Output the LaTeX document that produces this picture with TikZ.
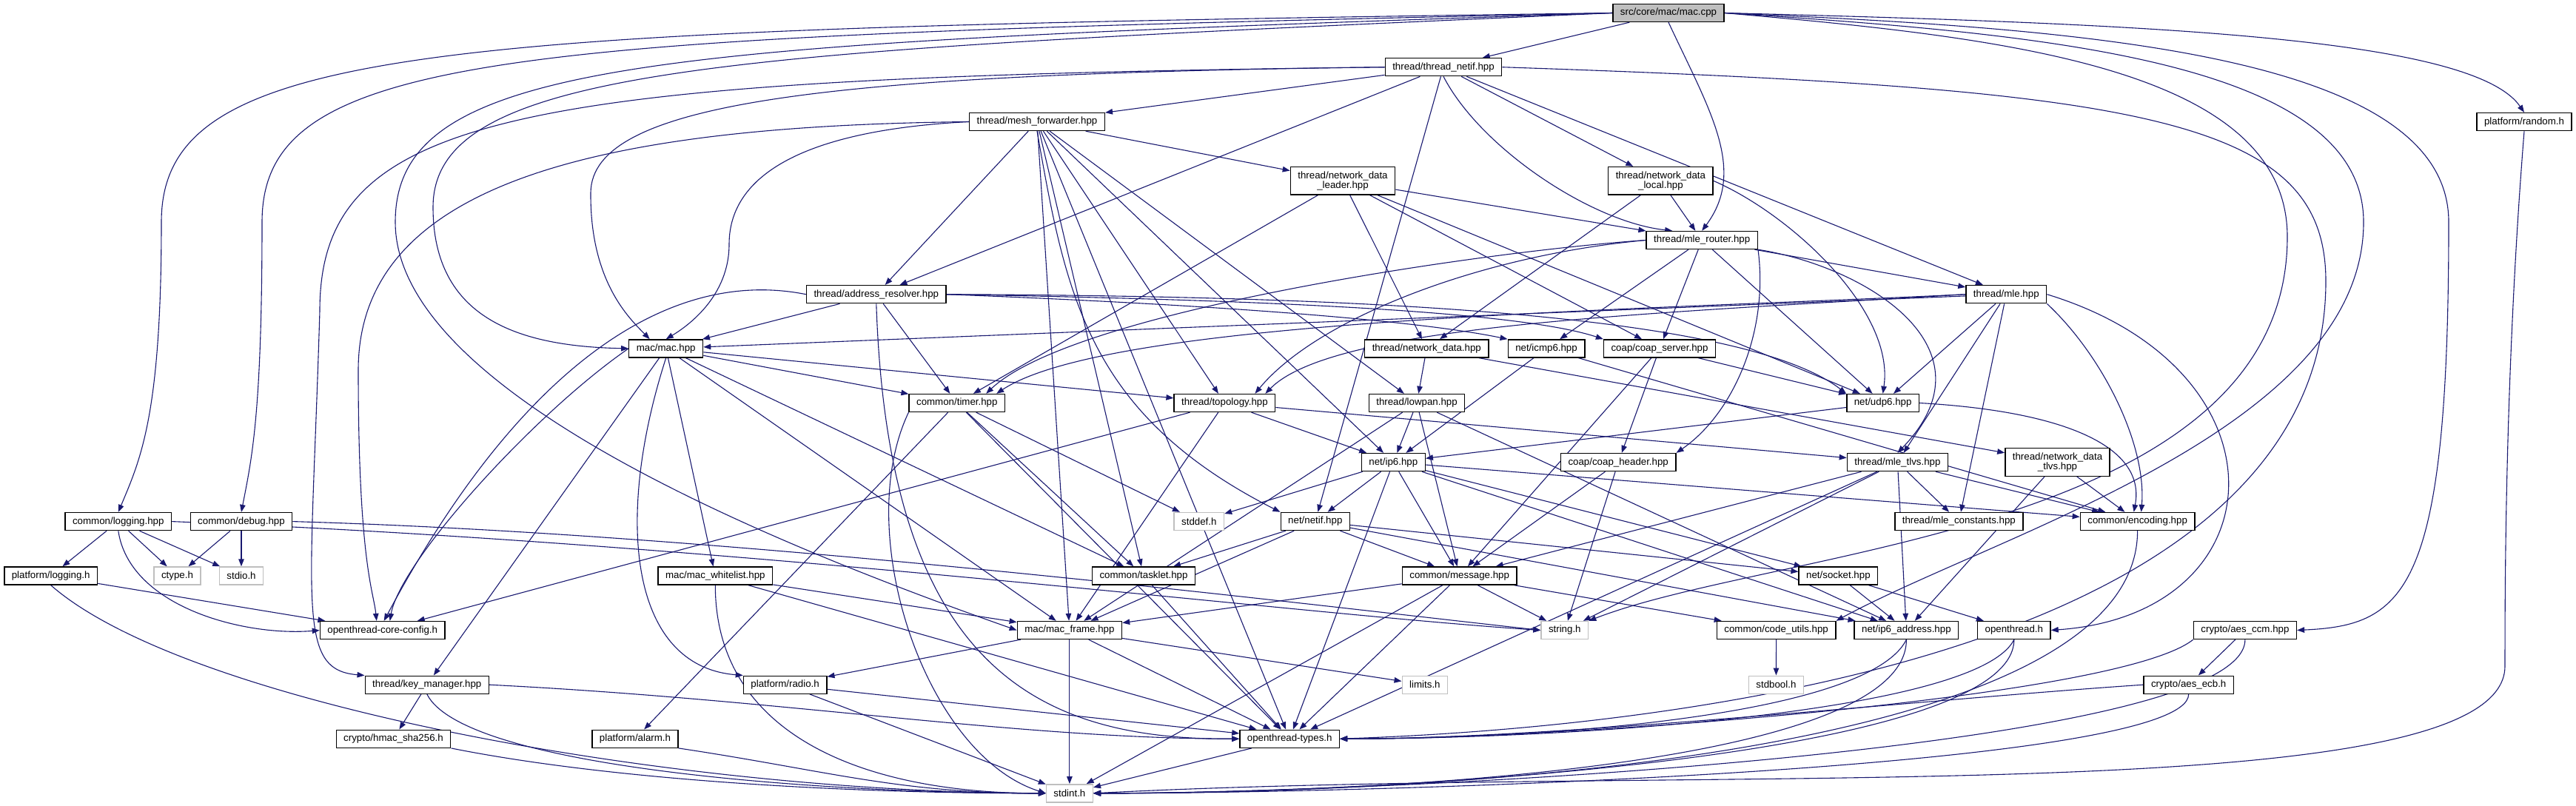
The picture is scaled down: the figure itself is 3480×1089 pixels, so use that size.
\documentclass[tikz,border=0pt]{standalone}
\usepackage{fontspec}
\setmainfont{Liberation Sans}
\usetikzlibrary{arrows.meta,backgrounds}
\definecolor{depblue}{HTML}{191970}
\definecolor{sysgray}{HTML}{BFBFBF}

\begin{document}
\begin{tikzpicture}[
    x=1pt, y=-1pt,
    font=\fontsize{13.3}{13.3}\selectfont,
    hdr/.style={draw=black, line width=1.4pt, fill=white, inner xsep=10pt, inner ysep=0pt, minimum height=24pt},
    syshdr/.style={hdr, draw=sysgray},
    srcfile/.style={hdr, fill=sysgray},
    twoline/.style={align=center, minimum height=37.5pt},
    dep/.style={draw=depblue, line width=1.1pt, -{Triangle[length=10pt,width=7.5pt]}}
]
    \useasboundingbox (0,0) rectangle (3480,1089);

    % Fichier source
    \node[srcfile] (src_mac) at (2254,17.5) {src/core/mac/mac.cpp};

    % En-tetes thread
    \node[hdr] (thr_netif) at (1950,90.7) {thread/thread\_netif.hpp};
    \node[hdr] (thr_meshfwd) at (1401,164.5) {thread/mesh\_forwarder.hpp};
    \node[hdr] (plat_random) at (3410,164.6) {platform/random.h};
    \node[hdr, twoline] (thr_ndleader) at (1814,244.3) {thread/network\_data\\\_leader.hpp};
    \node[hdr, twoline] (thr_ndlocal) at (2243.4,244.3) {thread/network\_data\\\_local.hpp};
    \node[hdr] (thr_mlerouter) at (2299.2,324.5) {thread/mle\_router.hpp};
    \node[hdr] (thr_addrres) at (1183.8,397.7) {thread/address\_resolver.hpp};
    \node[hdr] (thr_mle) at (2710.3,397.7) {thread/mle.hpp};
    \node[hdr] (mac_hpp) at (899.7,470.9) {mac/mac.hpp};
    \node[hdr] (thr_nd) at (1927.3,470.9) {thread/network\_data.hpp};
    \node[hdr] (net_icmp) at (2089,470.9) {net/icmp6.hpp};
    \node[hdr] (coap_srv) at (2242,470.9) {coap/coap\_server.hpp};
    \node[hdr] (com_timer) at (1292.8,544.5) {common/timer.hpp};
    \node[hdr] (thr_topo) at (1654.4,544.5) {thread/topology.hpp};
    \node[hdr] (thr_lowpan) at (1914,544.5) {thread/lowpan.hpp};
    \node[hdr] (net_udp) at (2543.6,544.5) {net/udp6.hpp};
    \node[hdr] (net_ip6) at (1882.3,624.6) {net/ip6.hpp};
    \node[hdr] (coap_hdr) at (2186.2,624.6) {coap/coap\_header.hpp};
    \node[hdr] (thr_mletlvs) at (2563.4,624.6) {thread/mle\_tlvs.hpp};
    \node[hdr, twoline] (thr_ndtlvs) at (2779.5,624.5) {thread/network\_data\\\_tlvs.hpp};

    % En-tetes communs
    \node[hdr] (com_log) at (159.8,704.6) {common/logging.hpp};
    \node[hdr] (com_debug) at (326,704.6) {common/debug.hpp};
    \node[syshdr] (sys_stddef) at (1619.8,704.5) {stddef.h};
    \node[hdr] (net_netif) at (1776.8,704.5) {net/netif.hpp};
    \node[hdr] (thr_mleconst) at (2646.3,704.5) {thread/mle\_constants.hpp};
    \node[hdr] (com_enc) at (2887.6,704.5) {common/encoding.hpp};
    \node[hdr] (plat_log) at (68.7,778) {platform/logging.h};
    \node[syshdr] (sys_ctype) at (239.5,778) {ctype.h};
    \node[syshdr] (sys_stdio) at (326,778) {stdio.h};
    \node[hdr] (mac_wl) at (966.3,778) {mac/mac\_whitelist.hpp};
    \node[hdr] (com_tasklet) at (1545,778) {common/tasklet.hpp};
    \node[hdr] (com_msg) at (1971.7,778) {common/message.hpp};
    \node[hdr] (net_socket) at (2483.4,778) {net/socket.hpp};
    \node[hdr] (ot_config) at (516.7,851.6) {openthread-core-config.h};
    \node[hdr] (mac_frame) at (1444.9,851.5) {mac/mac\_frame.hpp};
    \node[syshdr] (sys_string) at (2113.8,851.5) {string.h};
    \node[hdr] (com_utils) at (2399.6,851.5) {common/code\_utils.hpp};
    \node[hdr] (net_ip6addr) at (2575.4,851.5) {net/ip6\_address.hpp};
    \node[hdr] (ot_h) at (2720.8,851.5) {openthread.h};
    \node[hdr] (crypto_ccm) at (3032.9,851.5) {crypto/aes\_ccm.hpp};
    \node[hdr] (thr_keymgr) at (576.8,925.2) {thread/key\_manager.hpp};
    \node[hdr] (plat_radio) at (1060.6,925.2) {platform/radio.h};
    \node[syshdr] (sys_limits) at (1924.9,925.2) {limits.h};
    \node[syshdr] (sys_stdbool) at (2399.4,925.2) {stdbool.h};
    \node[hdr] (crypto_ecb) at (2956.7,925.2) {crypto/aes\_ecb.h};
    \node[hdr] (crypto_hmac) at (531.5,998.2) {crypto/hmac\_sha256.h};
    \node[hdr] (plat_alarm) at (858,998.2) {platform/alarm.h};
    \node[hdr] (ot_types) at (1742.2,998.2) {openthread-types.h};
    \node[syshdr] (sys_stdint) at (1444.9,1071.8) {stdint.h};

    \begin{scope}[on background layer]
    % Inclusions de mac.cpp
    \draw[dep] (src_mac) -- (thr_netif);
    \draw[dep] (src_mac.south) .. controls (2310,150) and (2360,230) .. (thr_mlerouter.north);
    \draw[dep] (src_mac.west) .. controls (600,40) and (218,55) .. (218,300) .. controls (218,560) and (190,620) .. (com_log.north);
    \draw[dep] (src_mac.west) .. controls (700,50) and (354,65) .. (354,300) .. controls (354,560) and (340,620) .. (com_debug.north);
    \draw[dep] (src_mac.west) .. controls (900,60) and (534,75) .. (534,300) .. controls (534,520) and (1000,720) .. (mac_frame.west);
    \draw[dep] (src_mac.west) .. controls (1000,70) and (585,85) .. (585,280) .. controls (585,430) and (700,468) .. (mac_hpp.west);
    \draw[dep] (src_mac.east) .. controls (2900,32) and (3340,50) .. (plat_random.north);
    \draw[dep] (src_mac.east) .. controls (2800,38) and (3308,70) .. (3308,300) .. controls (3308,800) and (3250,845) .. (crypto_ccm.east);
    \draw[dep] (src_mac.east) .. controls (2750,45) and (3193,80) .. (3193,300) .. controls (3193,580) and (2700,720) .. (com_utils.north east);
    \draw[dep] (src_mac.east) .. controls (2700,50) and (3090,90) .. (3090,320) .. controls (3090,720) and (2400,740) .. (sys_string.north east);

    % thread_netif
    \draw[dep] (thr_netif) -- (thr_meshfwd);
    \draw[dep] (thr_netif) -- (thr_ndlocal);
    \draw[dep] (thr_netif.south) .. controls (2000,200) and (2150,300) .. ([xshift=-40pt]thr_mlerouter.north);
    \draw[dep] (thr_netif) -- (thr_mle);
    \draw[dep] (thr_netif) -- (thr_addrres);
    \draw[dep] (thr_netif.west) .. controls (1100,100) and (800,140) .. (798,260) .. controls (797,380) and (850,430) .. ([xshift=-22pt]mac_hpp.north);
    \draw[dep] (thr_netif.west) .. controls (700,105) and (432,150) .. (432,420) .. controls (420,820) and (400,905) .. (thr_keymgr.north west);
    \draw[dep] (thr_netif) -- (net_netif);
    \draw[dep] (thr_netif.east) .. controls (2900,120) and (3142,160) .. (3142,380) .. controls (3142,900) and (2200,985) .. (ot_types.east);

    % mesh_forwarder
    \draw[dep] (thr_meshfwd.west) .. controls (1100,175) and (985,230) .. (985,330) .. controls (985,400) and (930,440) .. (mac_hpp.north);
    \draw[dep] (thr_meshfwd.west) .. controls (800,170) and (484,250) .. (484,500) .. controls (484,760) and (505,800) .. ([xshift=-8pt]ot_config.north);
    \draw[dep] (thr_meshfwd) -- (thr_addrres);
    \draw[dep] (thr_meshfwd) -- (mac_frame);
    \draw[dep] (thr_meshfwd) -- (com_tasklet);
    \draw[dep] (thr_meshfwd) -- (ot_types);
    \draw[dep] (thr_meshfwd) -- (thr_topo);
    \draw[dep] (thr_meshfwd) -- (thr_lowpan);
    \draw[dep] (thr_meshfwd) -- (thr_ndleader);
    \draw[dep] (thr_meshfwd) -- (net_ip6);
    \draw[dep] (thr_meshfwd.south) .. controls (1440,400) and (1470,560) .. (net_netif.north west);

    % network_data_leader / local
    \draw[dep] (thr_ndleader) -- (com_timer);
    \draw[dep] (thr_ndleader) -- (thr_mlerouter);
    \draw[dep] (thr_ndleader) -- (thr_nd);
    \draw[dep] (thr_ndleader) -- (coap_srv);
    \draw[dep] (thr_ndleader) -- (net_udp);
    \draw[dep] (thr_ndlocal) -- (thr_mlerouter);
    \draw[dep] (thr_ndlocal) -- (thr_nd);
    \draw[dep] (thr_ndlocal.east) .. controls (2420,290) and (2560,420) .. (net_udp.north);

    % mle_router
    \draw[dep] (thr_mlerouter) -- (thr_mle);
    \draw[dep] (thr_mlerouter) -- (net_udp);
    \draw[dep] (thr_mlerouter) -- (net_icmp);
    \draw[dep] (thr_mlerouter) -- (coap_srv);
    \draw[dep] (thr_mlerouter.south east) .. controls (2390,450) and (2340,560) .. (coap_hdr.north east);
    \draw[dep] (thr_mlerouter.south east) .. controls (2520,360) and (2700,470) .. (thr_mletlvs.north);
    \draw[dep] (thr_mlerouter.west) .. controls (2000,340) and (1450,420) .. ([xshift=-26pt]com_timer.north east);
    \draw[dep] (thr_mlerouter.west) .. controls (2000,345) and (1780,430) .. ([xshift=-28pt]thr_topo.north east);

    % address_resolver
    \draw[dep] (thr_addrres) -- (mac_hpp);
    \draw[dep] (thr_addrres.west) .. controls (900,360) and (700,500) .. ([xshift=2pt]ot_config.north);
    \draw[dep] (thr_addrres) -- (com_timer);
    \draw[dep] (thr_addrres.east) .. controls (1600,410) and (1900,430) .. (net_icmp.north west);
    \draw[dep] (thr_addrres.east) .. controls (1700,405) and (2050,420) .. (coap_srv.north west);
    \draw[dep] (thr_addrres.east) .. controls (1800,400) and (2350,420) .. (net_udp.north west);
    \draw[dep] (thr_addrres.south) .. controls (1200,900) and (1400,1000) .. (ot_types.west);

    % mle
    \draw[dep] (thr_mle) -- (mac_hpp);
    \draw[dep] (thr_mle.west) .. controls (2200,420) and (1500,430) .. ([xshift=-12pt]com_timer.north east);
    \draw[dep] (thr_mle.west) .. controls (2200,425) and (1800,440) .. ([xshift=-14pt]thr_topo.north east);
    \draw[dep] (thr_mle) -- (net_udp);
    \draw[dep] (thr_mle) -- (thr_mletlvs);
    \draw[dep] (thr_mle) -- (thr_mleconst);
    \draw[dep] (thr_mle.south east) .. controls (2840,480) and (2900,600) .. ([xshift=5pt]com_enc.north);
    \draw[dep] (thr_mle.east) .. controls (3100,500) and (3080,830) .. (ot_h.east);

    % mac.hpp
    \draw[dep] (mac_hpp.west) .. controls (720,560) and (540,760) .. ([xshift=10pt]ot_config.north);
    \draw[dep] (mac_hpp) -- (thr_keymgr);
    \draw[dep] (mac_hpp.south) .. controls (830,700) and (850,900) .. (plat_radio.north west);
    \draw[dep] (mac_hpp) -- (mac_wl);
    \draw[dep] (mac_hpp) -- (com_tasklet);
    \draw[dep] (mac_hpp) -- (mac_frame);
    \draw[dep] (mac_hpp) -- (com_timer);
    \draw[dep] (mac_hpp) -- (thr_topo);

    % network_data, icmp6, coap, udp6
    \draw[dep] (thr_nd) -- (thr_lowpan);
    \draw[dep] (thr_nd) -- (thr_ndtlvs);
    \draw[dep] (net_icmp) -- (net_ip6);
    \draw[dep] (net_icmp) -- (com_enc);
    \draw[dep] (coap_srv) -- (coap_hdr);
    \draw[dep] (coap_srv) -- (com_msg);
    \draw[dep] (coap_srv) -- (net_udp);
    \draw[dep] (coap_hdr) -- (com_msg);
    \draw[dep] (coap_hdr) -- (sys_string);
    \draw[dep] (net_udp) -- (net_ip6);
    \draw[dep] (net_udp.east) .. controls (2780,555) and (2900,600) .. ([xshift=-5pt]com_enc.north);

    % timer, topology, lowpan
    \draw[dep] (com_timer) -- (plat_alarm);
    \draw[dep] (com_timer) -- (ot_types);
    \draw[dep] (com_timer) -- (com_tasklet);
    \draw[dep] (com_timer) -- (sys_stddef);
    \draw[dep] (com_timer.south west) .. controls (1150,720) and (1250,1020) .. (sys_stdint.west);
    \draw[dep] (thr_topo) -- (ot_config);
    \draw[dep] (thr_topo) -- (mac_frame);
    \draw[dep] (thr_topo) -- (net_ip6);
    \draw[dep] (thr_topo) -- (thr_mletlvs);
    \draw[dep] (thr_lowpan) -- (net_ip6);
    \draw[dep] (thr_lowpan) -- (com_msg);
    \draw[dep] (thr_lowpan) -- (mac_frame);
    \draw[dep] (thr_lowpan) -- (net_ip6addr);

    % ip6, tlvs
    \draw[dep] (net_ip6) -- (net_netif);
    \draw[dep] (net_ip6) -- (com_msg);
    \draw[dep] (net_ip6) -- (sys_stddef);
    \draw[dep] (net_ip6) -- (ot_types);
    \draw[dep] (net_ip6) -- (net_socket);
    \draw[dep] (net_ip6) -- (net_ip6addr);
    \draw[dep] (net_ip6) -- (com_enc);
    \draw[dep] (thr_mletlvs) -- (thr_mleconst);
    \draw[dep] (thr_mletlvs) -- (com_enc);
    \draw[dep] (thr_mletlvs) -- (com_msg);
    \draw[dep] (thr_mletlvs) -- (net_ip6addr);
    \draw[dep] (thr_mletlvs) -- (sys_string);
    \draw[dep] (thr_mletlvs) -- (ot_types);
    \draw[dep] (thr_ndtlvs) -- (com_enc);
    \draw[dep] (thr_ndtlvs) -- (net_ip6addr);

    % logging, debug
    \draw[dep] (com_log) -- (plat_log);
    \draw[dep] (com_log) -- (sys_ctype);
    \draw[dep] (com_log) -- (sys_stdio);
    \draw[dep] (com_log.south) .. controls (175,820) and (330,860) .. (ot_config.west);
    \draw[dep] (com_log.east) .. controls (1000,735) and (1750,830) .. (sys_string.west);
    \draw[dep] (com_debug) -- (sys_ctype);
    \draw[dep] (com_debug) -- (sys_stdio);
    \draw[dep] (com_debug.east) .. controls (1000,722) and (1750,815) .. (sys_string.west);
    \draw[dep] (plat_log) -- (ot_config);
    \draw[dep] (plat_log.south) .. controls (250,950) and (900,1070) .. (sys_stdint.west);

    % netif, message, socket
    \draw[dep] (net_netif) -- (com_msg);
    \draw[dep] (net_netif) -- (com_tasklet);
    \draw[dep] (net_netif) -- (mac_frame);
    \draw[dep] (net_netif) -- (net_ip6addr);
    \draw[dep] (net_netif) -- (net_socket);
    \draw[dep] (com_msg) -- (sys_string);
    \draw[dep] (com_msg) -- (ot_types);
    \draw[dep] (com_msg) -- (sys_stdint);
    \draw[dep] (com_msg) -- (com_utils);
    \draw[dep] (com_msg) -- (mac_frame);
    \draw[dep] (net_socket) -- (net_ip6addr);
    \draw[dep] (net_socket) -- (ot_h);
    \draw[dep] (com_utils) -- (sys_stdbool);

    % mac_frame, whitelist, tasklet
    \draw[dep] (mac_wl) -- (mac_frame);
    \draw[dep] (mac_wl) -- (ot_types);
    \draw[dep] (mac_wl.south) .. controls +(0,200) and +(-250,0) .. (sys_stdint.west);
    \draw[dep] (com_tasklet) -- (ot_types);
    \draw[dep] (mac_frame) -- (sys_stdint);
    \draw[dep] (mac_frame) -- (ot_types);
    \draw[dep] (mac_frame) -- (sys_limits);
    \draw[dep] (mac_frame) -- (plat_radio);

    % vers openthread-types.h et stdint.h
    \draw[dep] (com_enc.south) .. controls +(0,300) and +(500,0) .. (sys_stdint.east);
    \draw[dep] (net_ip6addr.south) .. controls +(-50,100) and +(300,0) .. (ot_types.east);
    \draw[dep] (net_ip6addr.south) .. controls +(0,170) and +(400,0) .. (sys_stdint.east);
    \draw[dep] (ot_h.south) .. controls +(-50,100) and +(300,0) .. (ot_types.east);
    \draw[dep] (ot_h.south) .. controls +(0,160) and +(400,0) .. (sys_stdint.east);
    \draw[dep] (crypto_ccm) -- (crypto_ecb);
    \draw[dep] (crypto_ccm.south west) .. controls +(-100,80) and +(300,0) .. (ot_types.east);
    \draw[dep] (crypto_ccm.south) .. controls +(0,150) and +(400,0) .. (sys_stdint.east);
    \draw[dep] (crypto_ecb.west) .. controls +(-300,20) and +(300,0) .. (ot_types.east);
    \draw[dep] (crypto_ecb.south) .. controls +(0,100) and +(400,0) .. (sys_stdint.east);
    \draw[dep] (thr_keymgr) -- (crypto_hmac);
    \draw[dep] (thr_keymgr.east) .. controls +(400,20) and +(-300,0) .. (ot_types.west);
    \draw[dep] (thr_keymgr.south) .. controls +(50,100) and +(-300,0) .. (sys_stdint.west);
    \draw[dep] (plat_radio) -- (ot_types);
    \draw[dep] (plat_radio) -- (sys_stdint);
    \draw[dep] (crypto_hmac.south east) .. controls +(200,40) and +(-300,0) .. (sys_stdint.west);
    \draw[dep] (plat_alarm.south east) .. controls +(200,30) and +(-200,0) .. (sys_stdint.west);
    \draw[dep] (ot_types) -- (sys_stdint);
    \draw[dep] (plat_random.south) .. controls (3384,500) and (3384,800) .. (3384,900) .. controls (3384,1100) and (2300,1030) .. (sys_stdint.east);
    \end{scope}

\end{tikzpicture}
\end{document}
